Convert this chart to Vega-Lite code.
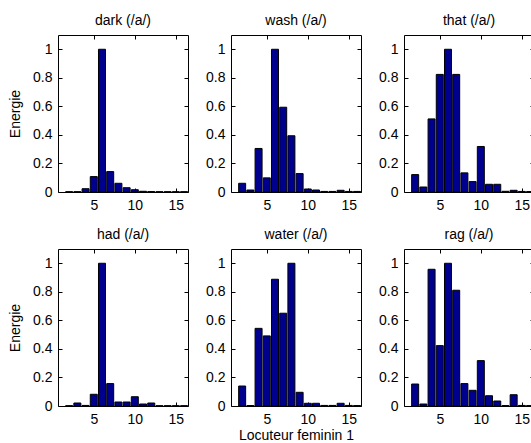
{
  "$schema": "https://vega.github.io/schema/vega-lite/v6.json",
  "background": "white",
  "padding": {"left": 8, "top": 13, "right": 2, "bottom": 2},
  "config": {
    "font": "Liberation Sans",
    "view": {"stroke": null},
    "title": {"fontSize": 14, "fontWeight": "normal", "color": "#000", "offset": 7, "font": "Liberation Sans"},
    "axis": {
      "grid": false, "domainColor": "#000", "tickColor": "#000", "tickSize": -4,
      "labelFontSize": 14, "labelColor": "#000", "labelFont": "Liberation Sans",
      "titleFontSize": 14, "titleFontWeight": "normal", "titleColor": "#000", "titleFont": "Liberation Sans"
    },
    "axisX": {"labelPadding": 10},
    "axisY": {"labelPadding": 10}
  },
  "datasets": {
    "d": [
      {"w":"dark","x":2,"v":0.002},{"w":"dark","x":3,"v":0.002},{"w":"dark","x":4,"v":0.023},{"w":"dark","x":5,"v":0.108},{"w":"dark","x":6,"v":1.0},{"w":"dark","x":7,"v":0.143},{"w":"dark","x":8,"v":0.061},{"w":"dark","x":9,"v":0.03},{"w":"dark","x":10,"v":0.016},{"w":"dark","x":11,"v":0.005},{"w":"dark","x":12,"v":0.003},{"w":"dark","x":13,"v":0.002},{"w":"dark","x":14,"v":0.002},{"w":"dark","x":15,"v":0.002},{"w":"dark","x":16,"v":0.002},
      {"w":"wash","x":2,"v":0.061},{"w":"wash","x":3,"v":0.014},{"w":"wash","x":4,"v":0.305},{"w":"wash","x":5,"v":0.099},{"w":"wash","x":6,"v":1.0},{"w":"wash","x":7,"v":0.594},{"w":"wash","x":8,"v":0.394},{"w":"wash","x":9,"v":0.129},{"w":"wash","x":10,"v":0.021},{"w":"wash","x":11,"v":0.014},{"w":"wash","x":12,"v":0.004},{"w":"wash","x":13,"v":0.004},{"w":"wash","x":14,"v":0.012},{"w":"wash","x":15,"v":0.004},{"w":"wash","x":16,"v":0.004},
      {"w":"that","x":2,"v":0.122},{"w":"that","x":3,"v":0.035},{"w":"that","x":4,"v":0.512},{"w":"that","x":5,"v":0.824},{"w":"that","x":6,"v":1.0},{"w":"that","x":7,"v":0.824},{"w":"that","x":8,"v":0.134},{"w":"that","x":9,"v":0.073},{"w":"that","x":10,"v":0.319},{"w":"that","x":11,"v":0.054},{"w":"that","x":12,"v":0.054},{"w":"that","x":13,"v":0.005},{"w":"that","x":14,"v":0.012},{"w":"that","x":15,"v":0.004},{"w":"that","x":16,"v":0.003},
      {"w":"had","x":2,"v":0.002},{"w":"had","x":3,"v":0.021},{"w":"had","x":4,"v":0.004},{"w":"had","x":5,"v":0.082},{"w":"had","x":6,"v":1.0},{"w":"had","x":7,"v":0.157},{"w":"had","x":8,"v":0.028},{"w":"had","x":9,"v":0.028},{"w":"had","x":10,"v":0.065},{"w":"had","x":11,"v":0.014},{"w":"had","x":12,"v":0.021},{"w":"had","x":13,"v":0.002},{"w":"had","x":14,"v":0.002},{"w":"had","x":15,"v":0.002},{"w":"had","x":16,"v":0.002},
      {"w":"water","x":2,"v":0.14},{"w":"water","x":3,"v":0.003},{"w":"water","x":4,"v":0.544},{"w":"water","x":5,"v":0.491},{"w":"water","x":6,"v":0.888},{"w":"water","x":7,"v":0.65},{"w":"water","x":8,"v":1.0},{"w":"water","x":9,"v":0.096},{"w":"water","x":10,"v":0.019},{"w":"water","x":11,"v":0.019},{"w":"water","x":12,"v":0.004},{"w":"water","x":13,"v":0.004},{"w":"water","x":14,"v":0.019},{"w":"water","x":15,"v":0.004},{"w":"water","x":16,"v":0.003},
      {"w":"rag","x":2,"v":0.154},{"w":"rag","x":3,"v":0.014},{"w":"rag","x":4,"v":0.958},{"w":"rag","x":5,"v":0.423},{"w":"rag","x":6,"v":1.0},{"w":"rag","x":7,"v":0.811},{"w":"rag","x":8,"v":0.157},{"w":"rag","x":9,"v":0.11},{"w":"rag","x":10,"v":0.318},{"w":"rag","x":11,"v":0.072},{"w":"rag","x":12,"v":0.035},{"w":"rag","x":13,"v":0.003},{"w":"rag","x":14,"v":0.079},{"w":"rag","x":15,"v":0.004},{"w":"rag","x":16,"v":0.003}
    ]
  },
  "data": {"name": "d"},
  "spacing": 15,
  "vconcat": [
    {"spacing": 16, "hconcat": [
      {"title": "dark (/a/)", "width": 130, "height": 157, "transform": [{"filter": "datum.w == 'dark'"}],
       "resolve": {"axis": {"x": "independent", "y": "independent"}},
       "layer": [
        {"mark": {"type": "bar", "color": "#00008F", "stroke": "#000", "strokeWidth": 1, "width": 7, "clip": true},
         "encoding": {"x": {"field": "x", "type": "quantitative", "scale": {"domain": [1.25, 15.87], "nice": false, "zero": false}, "axis": {"values": [5, 10, 15], "title": null}},
                      "y": {"field": "v", "type": "quantitative", "scale": {"domain": [0, 1.1], "nice": false}, "axis": {"values": [0, 0.2, 0.4, 0.6, 0.8, 1], "format": "~g", "title": "Energie", "titlePadding": 10}}}},
        {"mark": {"type": "bar", "opacity": 0, "width": 7, "clip": true},
         "encoding": {"x": {"field": "x", "type": "quantitative", "scale": {"domain": [1.25, 15.87], "nice": false, "zero": false}, "axis": {"orient": "top", "values": [5, 10, 15], "labels": false, "title": null}},
                      "y": {"field": "v", "type": "quantitative", "scale": {"domain": [0, 1.1], "nice": false}, "axis": {"orient": "right", "values": [0, 0.2, 0.4, 0.6, 0.8, 1], "labels": false, "title": null}}}}
       ]},
      {"title": "wash (/a/)", "width": 130, "height": 157, "transform": [{"filter": "datum.w == 'wash'"}],
       "resolve": {"axis": {"x": "independent", "y": "independent"}},
       "layer": [
        {"mark": {"type": "bar", "color": "#00008F", "stroke": "#000", "strokeWidth": 1, "width": 7, "clip": true},
         "encoding": {"x": {"field": "x", "type": "quantitative", "scale": {"domain": [1.25, 15.87], "nice": false, "zero": false}, "axis": {"values": [5, 10, 15], "title": null}},
                      "y": {"field": "v", "type": "quantitative", "scale": {"domain": [0, 1.1], "nice": false}, "axis": {"values": [0, 0.2, 0.4, 0.6, 0.8, 1], "format": "~g", "title": null}}}},
        {"mark": {"type": "bar", "opacity": 0, "width": 7, "clip": true},
         "encoding": {"x": {"field": "x", "type": "quantitative", "scale": {"domain": [1.25, 15.87], "nice": false, "zero": false}, "axis": {"orient": "top", "values": [5, 10, 15], "labels": false, "title": null}},
                      "y": {"field": "v", "type": "quantitative", "scale": {"domain": [0, 1.1], "nice": false}, "axis": {"orient": "right", "values": [0, 0.2, 0.4, 0.6, 0.8, 1], "labels": false, "title": null}}}}
       ]},
      {"title": "that (/a/)", "width": 130, "height": 157, "transform": [{"filter": "datum.w == 'that'"}],
       "resolve": {"axis": {"x": "independent", "y": "independent"}},
       "layer": [
        {"mark": {"type": "bar", "color": "#00008F", "stroke": "#000", "strokeWidth": 1, "width": 7, "clip": true},
         "encoding": {"x": {"field": "x", "type": "quantitative", "scale": {"domain": [1.25, 15.87], "nice": false, "zero": false}, "axis": {"values": [5, 10, 15], "title": null}},
                      "y": {"field": "v", "type": "quantitative", "scale": {"domain": [0, 1.1], "nice": false}, "axis": {"values": [0, 0.2, 0.4, 0.6, 0.8, 1], "format": "~g", "title": null}}}},
        {"mark": {"type": "bar", "opacity": 0, "width": 7, "clip": true},
         "encoding": {"x": {"field": "x", "type": "quantitative", "scale": {"domain": [1.25, 15.87], "nice": false, "zero": false}, "axis": {"orient": "top", "values": [5, 10, 15], "labels": false, "title": null}},
                      "y": {"field": "v", "type": "quantitative", "scale": {"domain": [0, 1.1], "nice": false}, "axis": {"orient": "right", "values": [0, 0.2, 0.4, 0.6, 0.8, 1], "labels": false, "title": null}}}}
       ]}
    ]},
    {"spacing": 16, "hconcat": [
      {"title": "had (/a/)", "width": 130, "height": 157, "transform": [{"filter": "datum.w == 'had'"}],
       "resolve": {"axis": {"x": "independent", "y": "independent"}},
       "layer": [
        {"mark": {"type": "bar", "color": "#00008F", "stroke": "#000", "strokeWidth": 1, "width": 7, "clip": true},
         "encoding": {"x": {"field": "x", "type": "quantitative", "scale": {"domain": [1.25, 15.87], "nice": false, "zero": false}, "axis": {"values": [5, 10, 15], "title": null}},
                      "y": {"field": "v", "type": "quantitative", "scale": {"domain": [0, 1.1], "nice": false}, "axis": {"values": [0, 0.2, 0.4, 0.6, 0.8, 1], "format": "~g", "title": "Energie", "titlePadding": 10}}}},
        {"mark": {"type": "bar", "opacity": 0, "width": 7, "clip": true},
         "encoding": {"x": {"field": "x", "type": "quantitative", "scale": {"domain": [1.25, 15.87], "nice": false, "zero": false}, "axis": {"orient": "top", "values": [5, 10, 15], "labels": false, "title": null}},
                      "y": {"field": "v", "type": "quantitative", "scale": {"domain": [0, 1.1], "nice": false}, "axis": {"orient": "right", "values": [0, 0.2, 0.4, 0.6, 0.8, 1], "labels": false, "title": null}}}}
       ]},
      {"title": "water (/a/)", "width": 130, "height": 157, "transform": [{"filter": "datum.w == 'water'"}],
       "resolve": {"axis": {"x": "independent", "y": "independent"}},
       "layer": [
        {"mark": {"type": "bar", "color": "#00008F", "stroke": "#000", "strokeWidth": 1, "width": 7, "clip": true},
         "encoding": {"x": {"field": "x", "type": "quantitative", "scale": {"domain": [1.25, 15.87], "nice": false, "zero": false}, "axis": {"values": [5, 10, 15], "title": "Locuteur feminin 1", "titlePadding": 2}},
                      "y": {"field": "v", "type": "quantitative", "scale": {"domain": [0, 1.1], "nice": false}, "axis": {"values": [0, 0.2, 0.4, 0.6, 0.8, 1], "format": "~g", "title": null}}}},
        {"mark": {"type": "bar", "opacity": 0, "width": 7, "clip": true},
         "encoding": {"x": {"field": "x", "type": "quantitative", "scale": {"domain": [1.25, 15.87], "nice": false, "zero": false}, "axis": {"orient": "top", "values": [5, 10, 15], "labels": false, "title": null}},
                      "y": {"field": "v", "type": "quantitative", "scale": {"domain": [0, 1.1], "nice": false}, "axis": {"orient": "right", "values": [0, 0.2, 0.4, 0.6, 0.8, 1], "labels": false, "title": null}}}}
       ]},
      {"title": "rag (/a/)", "width": 130, "height": 157, "transform": [{"filter": "datum.w == 'rag'"}],
       "resolve": {"axis": {"x": "independent", "y": "independent"}},
       "layer": [
        {"mark": {"type": "bar", "color": "#00008F", "stroke": "#000", "strokeWidth": 1, "width": 7, "clip": true},
         "encoding": {"x": {"field": "x", "type": "quantitative", "scale": {"domain": [1.25, 15.87], "nice": false, "zero": false}, "axis": {"values": [5, 10, 15], "title": null}},
                      "y": {"field": "v", "type": "quantitative", "scale": {"domain": [0, 1.1], "nice": false}, "axis": {"values": [0, 0.2, 0.4, 0.6, 0.8, 1], "format": "~g", "title": null}}}},
        {"mark": {"type": "bar", "opacity": 0, "width": 7, "clip": true},
         "encoding": {"x": {"field": "x", "type": "quantitative", "scale": {"domain": [1.25, 15.87], "nice": false, "zero": false}, "axis": {"orient": "top", "values": [5, 10, 15], "labels": false, "title": null}},
                      "y": {"field": "v", "type": "quantitative", "scale": {"domain": [0, 1.1], "nice": false}, "axis": {"orient": "right", "values": [0, 0.2, 0.4, 0.6, 0.8, 1], "labels": false, "title": null}}}}
       ]}
    ]}
  ]
}
